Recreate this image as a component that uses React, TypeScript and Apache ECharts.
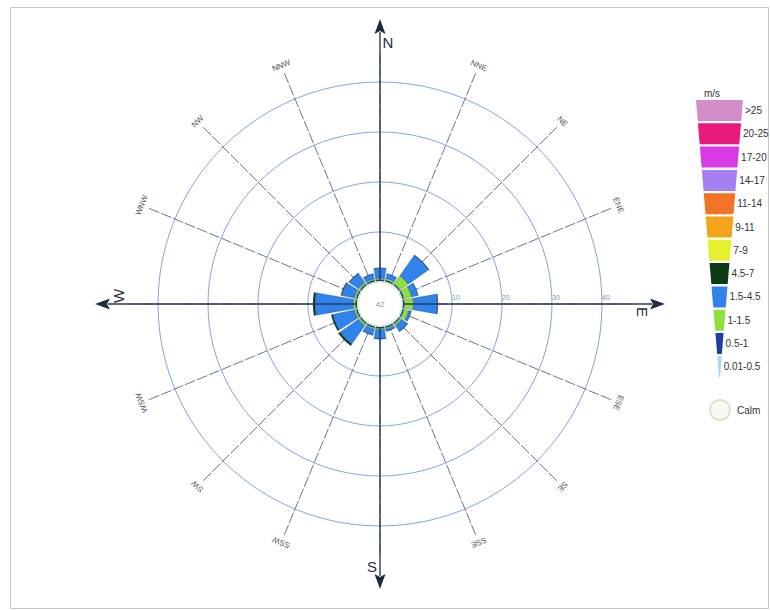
import React, { useEffect, useRef } from 'react';
import * as echarts from 'echarts';

// ---- data ----
const directions = ['N', 'NNE', 'NE', 'ENE', 'E', 'ESE', 'SE', 'SSE', 'S', 'SSW', 'SW', 'WSW', 'W', 'WNW', 'NW', 'NNW'];
const speedClasses = ['0.01-0.5', '0.5-1', '1-1.5', '1.5-4.5', '4.5-7', '7-9', '9-11', '11-14', '14-17', '17-20', '20-25', '>25'];
const speedColors = ['#a9d6f2', '#1e3ea6', '#8ee03a', '#2f83ea', '#0c3a14', '#e6f02c', '#f6a31c', '#f07424', '#a680f0', '#d83be6', '#e81a7c', '#d38dc8'];
// frequency (%) per direction, N..NNW, for each speed class present
const v001to05 = [0.2, 0.2, 0.2, 0.2, 0.2, 0.2, 0.2, 0.2, 0.2, 0.2, 0.2, 0.2, 0.2, 0.2, 0.2, 0.2];
const v05to1 = [0.3, 0.3, 0.3, 0.3, 0.3, 0.3, 0.3, 0.3, 0.3, 0.3, 0.3, 0.3, 0.3, 0.3, 0.3, 0.3];
const v1to15 = [0.3, 0.4, 2.0, 1.6, 1.8, 1.0, 0.4, 0.3, 0.3, 0.3, 0.4, 0.4, 0.5, 0.4, 0.4, 0.3];
const v15to45 = [2.0, 0.9, 5.0, 1.3, 4.8, 0.5, 1.4, 0.4, 1.8, 1.2, 4.5, 4.4, 7.6, 2.6, 2.2, 1.0];
const v45to7 = [0, 0, 0.1, 0, 0.1, 0, 0.1, 0, 0, 0, 0.4, 0.3, 0.4, 0.1, 0.1, 0];
const seriesValues = [v001to05, v05to1, v1to15, v15to45, v45to7];
const radiusTicks = [10, 20, 30, 40];
const calmValue = '42';
const unitLabel = 'm/s';
const calmLabel = 'Calm';

// ---- layout ----
const CX = 380;
const CY = 304;
const R0 = 22;
const ROUT = 250;
const PX_PER_UNIT = 5;
const FONT = '"Liberation Sans", Arial, sans-serif';

function pt(thetaDeg: number, r: number): [number, number] {
  const t = (thetaDeg * Math.PI) / 180;
  return [CX + r * Math.sin(t), CY - r * Math.cos(t)];
}

function rotateFromE<T>(arr: T[]): T[] {
  return arr.slice(4).concat(arr.slice(0, 4));
}

export default function App() {
  const ref = useRef<HTMLDivElement>(null);
  useEffect(() => {
    document.body.style.margin = '0';
    if (!ref.current) return;
    const chart = echarts.init(ref.current, undefined, { renderer: 'svg' });

    const graphics: any[] = [];
    graphics.push({
      type: 'rect', shape: { x: 10.5, y: 7.5, width: 758, height: 601 },
      style: { fill: 'none', stroke: '#c9c9c9', lineWidth: 1 }, z: 0, silent: true,
    });
    // calm hole
    graphics.push({
      type: 'circle', shape: { cx: CX, cy: CY, r: R0 },
      style: { fill: '#ffffff', stroke: '#dcefcf', lineWidth: 2 }, z: 50, silent: true,
    });
    graphics.push({
      type: 'text', x: CX, y: CY,
      style: { text: calmValue, fontSize: 8, fontFamily: FONT, fill: '#8a96a8', align: 'center', verticalAlign: 'middle' },
      z: 51, silent: true,
    });
    // direction labels & cardinal axes
    directions.forEach((d, i) => {
      const theta = i * 22.5;
      const rot = (-theta * Math.PI) / 180;
      const cardinal = i % 4 === 0;
      if (cardinal) {
        const a = pt(theta, R0);
        const b = pt(theta, 272);
        graphics.push({
          type: 'line', shape: { x1: a[0], y1: a[1], x2: b[0], y2: b[1] },
          style: { stroke: '#2c3a55', lineWidth: 1.4 }, z: 40, silent: true,
        });
        const tip = pt(theta, 285);
        const base = pt(theta, 270);
        const t = (theta * Math.PI) / 180;
        const px = Math.cos(t) * 5.5;
        const py = Math.sin(t) * 5.5;
        graphics.push({
          type: 'polygon',
          shape: { points: [tip, [base[0] + px, base[1] + py], pt(theta, 273), [base[0] - px, base[1] - py]] },
          style: { fill: '#1f2b44' }, z: 41, silent: true,
        });
        const lp = pt(theta, 262);
        graphics.push({
          type: 'text', x: lp[0] + Math.cos(t) * 8, y: lp[1] + Math.sin(t) * 8, rotation: theta === 180 ? 0 : rot,
          style: { text: d, fontSize: 15, fontFamily: FONT, fill: '#1f2b44', align: 'center', verticalAlign: 'middle' },
          z: 42, silent: true,
        });
      } else {
        const lp = pt(theta, 258);
        graphics.push({
          type: 'text', x: lp[0], y: lp[1], rotation: rot,
          style: { text: d, fontSize: 8, fontFamily: FONT, fill: '#4f5566', align: 'center', verticalAlign: 'middle' },
          z: 42, silent: true,
        });
      }
    });
    // legend funnel
    const legendTop = 100;
    const legendBottom = 382;
    const pitch = 23.3;
    const bandH = 21;
    const lcx = 719.5;
    const wAt = (y: number) => (47 * (legendBottom - y)) / (legendBottom - legendTop);
    graphics.push({
      type: 'text', x: 712, y: 93,
      style: { text: unitLabel, fontSize: 10, fontFamily: FONT, fill: '#333', align: 'center', verticalAlign: 'middle' },
      silent: true,
    });
    const legendOrder = speedClasses.map((_, i) => speedClasses.length - 1 - i);
    legendOrder.forEach((ci, k) => {
      const yT = legendTop + pitch * k;
      const yB = Math.min(yT + bandH, legendBottom);
      const wT = wAt(yT);
      const wB = Math.max(wAt(yB), 1);
      graphics.push({
        type: 'polygon',
        shape: { points: [[lcx - wT / 2, yT], [lcx + wT / 2, yT], [lcx + wB / 2, yB], [lcx - wB / 2, yB]] },
        style: { fill: speedColors[ci] }, silent: true,
      });
      graphics.push({
        type: 'text', x: lcx + wT / 2 + 2, y: (yT + yB) / 2,
        style: { text: speedClasses[ci], fontSize: 10, fontFamily: FONT, fill: '#333', align: 'left', verticalAlign: 'middle' },
        silent: true,
      });
    });
    graphics.push({
      type: 'circle', shape: { cx: 720, cy: 410, r: 10 },
      style: { fill: '#f6faf2', stroke: '#d3e7c4', lineWidth: 2 }, silent: true,
    });
    graphics.push({
      type: 'text', x: 737, y: 410,
      style: { text: calmLabel, fontSize: 10, fontFamily: FONT, fill: '#333', align: 'left', verticalAlign: 'middle' },
      silent: true,
    });

    const maxVal = (ROUT - R0) / PX_PER_UNIT;
    const circleColor = '#7fa7d8';
    const hidden = { show: false };

    chart.setOption({
      animation: false,
      backgroundColor: '#ffffff',
      polar: [
        { center: [CX, CY], radius: [R0, ROUT] },
        { center: [CX, CY], radius: [R0, ROUT] },
      ],
      angleAxis: [
        {
          polarIndex: 0,
          type: 'category',
          data: rotateFromE(directions),
          startAngle: 11.25,
          clockwise: true,
          boundaryGap: true,
          axisLine: hidden,
          axisTick: hidden,
          axisLabel: hidden,
          splitLine: hidden,
        },
        {
          polarIndex: 1,
          type: 'value',
          min: 0,
          max: 360,
          interval: 22.5,
          startAngle: 0,
          clockwise: true,
          axisLine: hidden,
          axisTick: hidden,
          axisLabel: hidden,
          splitLine: { show: true, lineStyle: { color: '#6f7688', width: 1, type: [11, 2] } },
        },
      ],
      radiusAxis: [
        {
          polarIndex: 0,
          type: 'value',
          min: 0,
          max: maxVal,
          interval: 10,
          axisLine: hidden,
          axisTick: hidden,
          axisLabel: hidden,
          splitLine: {
            show: true,
            lineStyle: {
              color: ['rgba(0,0,0,0)', circleColor, circleColor, circleColor, circleColor, 'rgba(0,0,0,0)'],
              width: 1,
            },
          },
        },
        {
          polarIndex: 1,
          type: 'value',
          min: 0,
          max: maxVal,
          interval: 10,
          axisLine: hidden,
          axisTick: hidden,
          splitLine: hidden,
          axisLabel: {
            show: true,
            margin: 3,
            fontSize: 7,
            fontFamily: FONT,
            color: '#7d93b3',
            align: 'left',
            formatter: (v: number) => (radiusTicks.indexOf(Math.round(v * 100) / 100) >= 0 ? String(v) : ''),
          },
        },
      ],
      series: seriesValues.map((vals, ci) => ({
        type: 'bar',
        name: speedClasses[ci],
        coordinateSystem: 'polar',
        polarIndex: 0,
        stack: 'rose',
        barCategoryGap: '12%',
        data: rotateFromE(vals),
        itemStyle: { color: speedColors[ci], borderColor: 'rgba(25,50,105,0.55)', borderWidth: 0.5 },
        silent: true,
        z: 5,
      })),
      graphic: graphics,
    });
    return () => chart.dispose();
  }, []);
  return <div ref={ref} style={{ width: 770, height: 610 }} />;
}
